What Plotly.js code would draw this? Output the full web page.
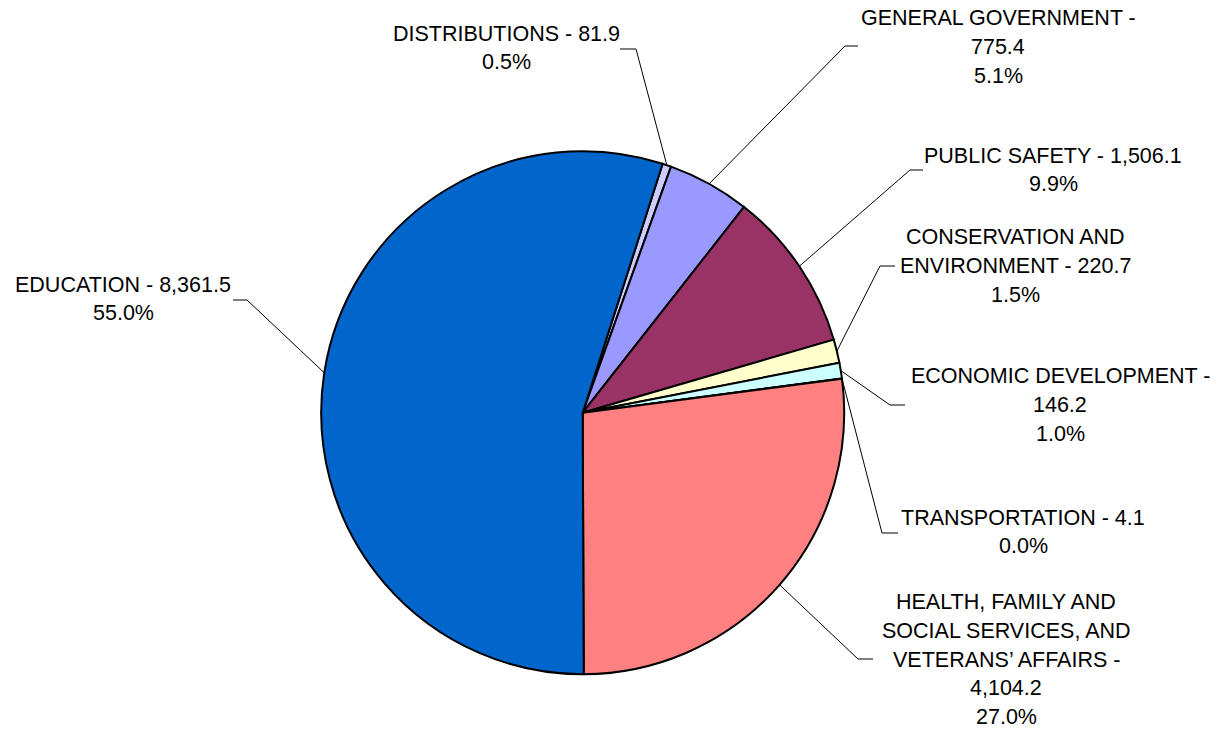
<!DOCTYPE html>
<html>
<head>
<meta charset="utf-8">
<script src="https://cdn.plot.ly/plotly-3.0.1.min.js"></script>
<style>html,body{margin:0;padding:0;background:#fff;}#chart{width:1218px;height:729px;}</style>
</head>
<body>
<div id="chart"></div>
<script>
// ---- data ----
const categories = ['DISTRIBUTIONS', 'GENERAL GOVERNMENT', 'PUBLIC SAFETY', 'CONSERVATION AND ENVIRONMENT',
  'ECONOMIC DEVELOPMENT', 'TRANSPORTATION', 'HEALTH, FAMILY AND SOCIAL SERVICES, AND VETERANS’ AFFAIRS', 'EDUCATION'];
const values = [81.9, 775.4, 1506.1, 220.7, 146.2, 4.1, 4104.2, 8361.5];
// how each category name is broken into lines on its label
const nameLines = [
  ['DISTRIBUTIONS'],
  ['GENERAL GOVERNMENT'],
  ['PUBLIC SAFETY'],
  ['CONSERVATION AND', 'ENVIRONMENT'],
  ['ECONOMIC DEVELOPMENT'],
  ['TRANSPORTATION'],
  ['HEALTH, FAMILY AND', 'SOCIAL SERVICES, AND', 'VETERANS’ AFFAIRS'],
  ['EDUCATION']
];
const valueOnNewLine = [false, true, false, false, true, false, true, false];

// ---- style / layout ----
const colors = ['#CCCCFF', '#9999FF', '#993366', '#FFFFCC', '#CCFFFF', '#660066', '#FF8080', '#0066CC'];
const W = 1218, H = 729;
const pieCx = 582.7, pieCy = 412.7, pieR = 261.5, rotationDeg = 17.8;
const fontSize = 21.5, lineH = 28.7;
// label placement (pixels): label centre x,y ; elbow x,y ; line end x
const labelPos = [
  {lx: 506, ly: 48, ex: 636, ey: 49, tx: 620},
  {lx: 998, ly: 47, ex: 845, ey: 46, tx: 858},
  {lx: 1053, ly: 170, ex: 910, ey: 170, tx: 923},
  {lx: 1015, ly: 266, ex: 880, ey: 266, tx: 895},
  {lx: 1060, ly: 405, ex: 890, ey: 405, tx: 905},
  {lx: 1023, ly: 532, ex: 882, ey: 533, tx: 898},
  {lx: 1006, ly: 659.5, ex: 858, ey: 659, tx: 873},
  {lx: 123, ly: 299, ex: 247, ey: 300, tx: 233}
];

const total = values.reduce((a, b) => a + b, 0);
const fmtVal = v => v.toLocaleString('en-US', {minimumFractionDigits: 1, maximumFractionDigits: 1});
const fmtPct = v => (v / total * 100).toFixed(1) + '%';
const px = x => x / W;
const py = y => 1 - y / H;

const annotations = [];
const shapes = [];
let cum = 0;
values.forEach((v, i) => {
  const mid = (rotationDeg + (cum + v / 2) / total * 360) * Math.PI / 180;
  cum += v;
  const sx = pieCx + pieR * Math.sin(mid);
  const sy = pieCy - pieR * Math.cos(mid);
  const p = labelPos[i];
  shapes.push({
    type: 'path', xref: 'paper', yref: 'paper',
    path: `M ${px(sx)} ${py(sy)} L ${px(p.ex)} ${py(p.ey)} L ${px(p.tx)} ${py(p.ey)}`,
    line: {color: '#000', width: 1}
  });
  const lines = nameLines[i].slice();
  const last = lines.length - 1;
  if (valueOnNewLine[i]) {
    lines[last] = lines[last] + ' -';
    lines.push(fmtVal(v));
  } else {
    lines[last] = lines[last] + ' - ' + fmtVal(v);
  }
  lines.push(fmtPct(v));
  lines.forEach((t, k) => {
    const y = p.ly + (k - (lines.length - 1) / 2) * lineH;
    annotations.push({
      xref: 'paper', yref: 'paper', x: px(p.lx), y: py(y),
      xanchor: 'center', yanchor: 'middle', showarrow: false,
      text: t, font: {family: 'Liberation Sans, Arial, sans-serif', size: fontSize, color: '#000'}
    });
  });
});

const trace = {
  type: 'pie', labels: categories, values: values, sort: false,
  direction: 'clockwise', rotation: rotationDeg,
  marker: {colors: colors, line: {color: '#000', width: 2}},
  textinfo: 'none', hoverinfo: 'skip', showlegend: false,
  domain: {x: [px(pieCx - pieR), px(pieCx + pieR)], y: [py(pieCy + pieR), py(pieCy - pieR)]}
};

Plotly.newPlot('chart', [trace], {
  width: W, height: H, margin: {l: 0, r: 0, t: 0, b: 0},
  paper_bgcolor: '#fff', plot_bgcolor: '#fff',
  annotations: annotations, shapes: shapes
}, {displayModeBar: false, staticPlot: true});
</script>
</body>
</html>
